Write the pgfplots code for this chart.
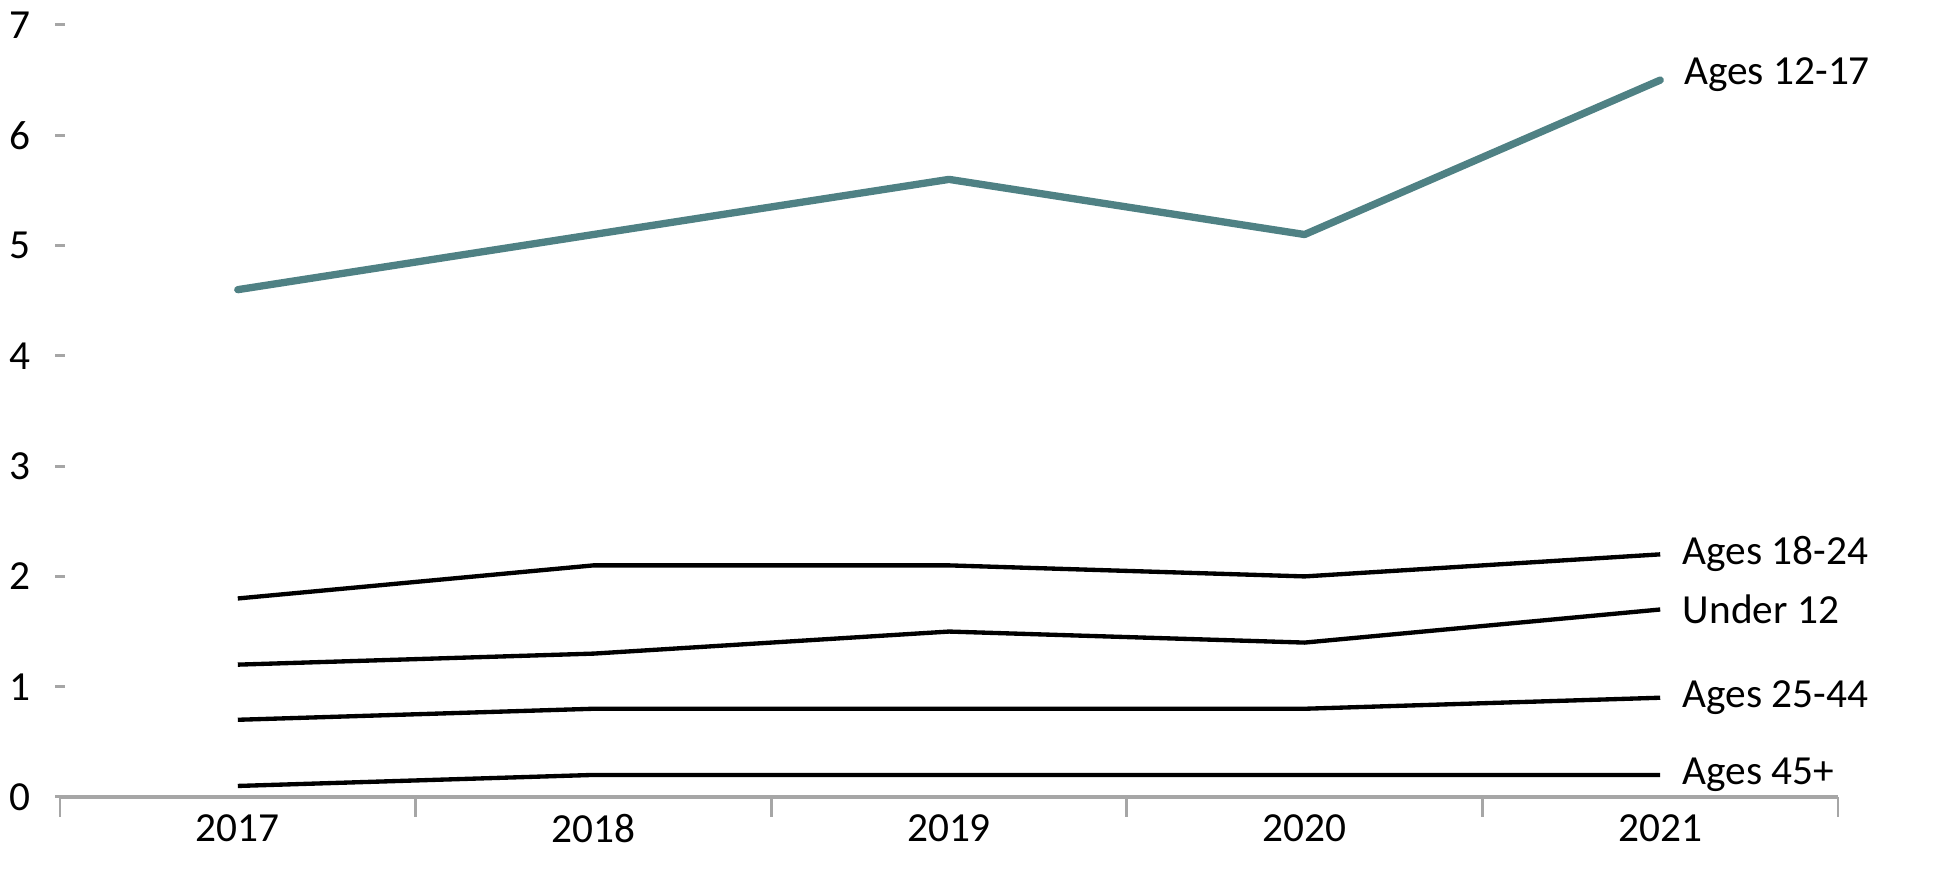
\documentclass[border=0pt]{standalone}
\usepackage{pgfplots}
\pgfplotsset{compat=1.18}
\usepackage{fontspec}
\setmainfont{Carlito}
\definecolor{teal1}{HTML}{4F8184}
\definecolor{axgray}{HTML}{A6A6A6}
\begin{document}
\fontsize{12.4}{15}\selectfont
\begin{tikzpicture}
\path[use as bounding box] (-18pt,-21.9pt) rectangle ++(585pt,261pt);
\begin{axis}[
  at={(0,0)}, anchor=south west,
  scale only axis, width=533.4pt, height=231.6pt,
  xmin=-0.5, xmax=4.5, ymin=0, ymax=7,
  clip=false,
  axis x line*=bottom, axis y line*=left,
  y axis line style={draw=none},
  x axis line style={draw=axgray, line width=1.2pt},
  xtick={0,1,2,3,4},
  xticklabels={2017,2018,2019,2020,2021},
  x tick style={draw=none},
  extra x ticks={-0.5,0.5,1.5,2.5,3.5,4.5},
  extra x tick labels={},
  extra x tick style={x tick style={draw=axgray, line width=0.8pt}, major tick length=6pt, tick align=outside},
  ytick={0,1,...,7},
  y tick style={draw=axgray, line width=0.9pt},
  tick align=center, major tick length=3pt,
  xticklabel style={yshift=0.6pt},
  yticklabel style={xshift=-3pt},
  /pgf/number format/assume math mode=true,
  tick label style={font=\fontsize{12.4}{15}\selectfont},
]
\addplot[teal1, line width=2.2pt, line cap=round, line join=round] coordinates {(0,4.6) (1,5.1) (2,5.6) (3,5.1) (4,6.5)}
  node[pos=1, anchor=west, xshift=2pt, yshift=1.5pt, text=black, font=\fontsize{12.4}{15}\selectfont] {Ages 12-17};
\addplot[black, line width=1.3pt] coordinates {(0,1.8) (1,2.1) (2,2.1) (3,2.0) (4,2.2)}
  node[pos=1, anchor=west, xshift=2pt, font=\fontsize{12.4}{15}\selectfont] {Ages 18-24};
\addplot[black, line width=1.3pt] coordinates {(0,1.2) (1,1.3) (2,1.5) (3,1.4) (4,1.7)}
  node[pos=1, anchor=west, xshift=2pt, font=\fontsize{12.4}{15}\selectfont] {Under 12};
\addplot[black, line width=1.3pt] coordinates {(0,0.7) (1,0.8) (2,0.8) (3,0.8) (4,0.9)}
  node[pos=1, anchor=west, xshift=2pt, font=\fontsize{12.4}{15}\selectfont] {Ages 25-44};
\addplot[black, line width=1.3pt] coordinates {(0,0.1) (1,0.2) (2,0.2) (3,0.2) (4,0.2)}
  node[pos=1, anchor=west, xshift=2pt, font=\fontsize{12.4}{15}\selectfont] {Ages 45+};
\end{axis}
\end{tikzpicture}
\end{document}
